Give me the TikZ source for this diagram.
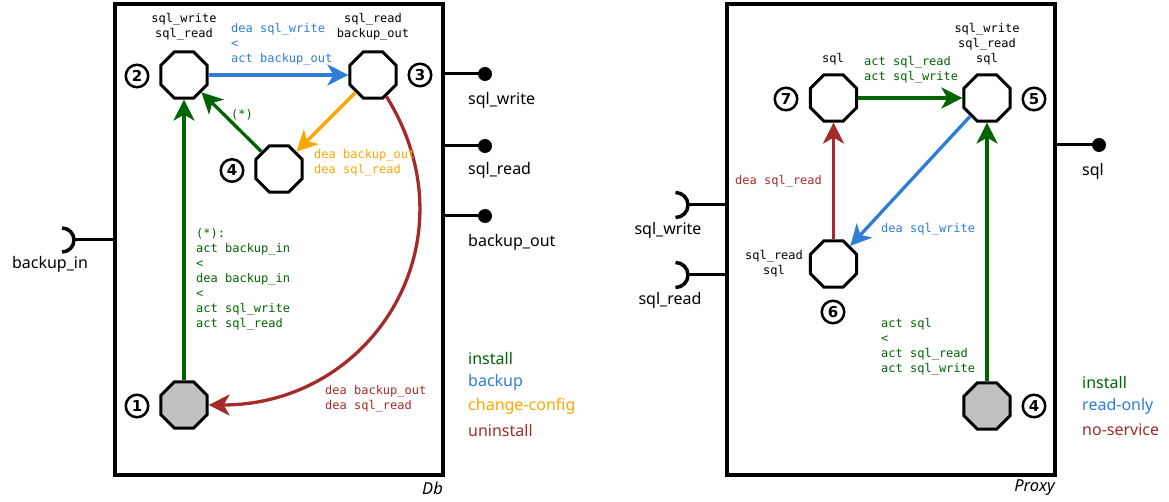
\documentclass[tikz,border=0pt]{standalone}
\usepackage{fontspec}
\setmainfont{Noto Sans}
\newfontfamily\monof{DejaVu Sans Mono}
\newfontfamily\numf{DejaVu Sans}
\usetikzlibrary{shapes.geometric,arrows.meta}
\definecolor{cgreen}{RGB}{0,100,0}
\definecolor{cblue}{RGB}{46,125,215}
\definecolor{corange}{RGB}{255,165,0}
\definecolor{cred}{RGB}{165,42,42}
\definecolor{cgray}{RGB}{192,192,192}
\begin{document}
\begin{tikzpicture}[x=1pt,y=-1pt,
  state/.style={regular polygon, regular polygon sides=8, minimum size=50pt, inner sep=0pt, draw, line width=3pt, fill=white},
  init/.style={state, fill=cgray},
  num/.style={circle, draw, line width=2.5pt, minimum size=22.5pt, inner sep=0pt, font=\fontsize{15}{15}\numf\bfseries},
  mono/.style={font=\fontsize{12}{15}\monof, inner sep=0pt, align=left},
  lbl/.style={font=\fontsize{16}{20}\selectfont, inner sep=0pt},
  trans/.style={line width=3.3pt, -{Stealth[length=21pt,width=21pt,inset=6pt]}},
  box/.style={draw, line width=4pt},
  port/.style={line width=3pt},
  dot/.style={circle, fill, minimum size=14pt, inner sep=0pt},
  sock/.style={line width=3.5pt},
  title/.style={font=\fontsize{16.5}{16.5}\selectfont\itshape, inner sep=0pt, anchor=east}]
\useasboundingbox (0,0) rectangle (1169,502);

% ---------- Db ----------
\draw[box] (115,4) rectangle (443,475);
\node[title] (dbt) at (443,488) {Db};

\node[state] (d2) at (184,75) {};
\node[state] (d3) at (373,75) {};
\node[state] (d4) at (279,169) {};
\node[init] (d1) at (184,405) {};

\node[num] (n2) at (137,76) {2};
\node[num] (n3) at (420,75) {3};
\node[num] (n4) at (232,170.5) {4};
\node[num] (n1) at (137,406) {1};

\node[mono, align=center] (l2) at (184,27) {sql\_write\\sql\_read};
\node[mono, align=center] (l3) at (373,27) {sql\_read\\backup\_out};

\draw[trans, cblue] (d2) -- (d3);
\draw[trans, corange] (d3) -- (d4);
\draw[trans, cgreen] (d4) -- (d2);
\draw[trans, cgreen] (d1) -- (d2);
\draw[trans, cred] (d3) .. controls (476,240) and (374,405) .. (d1);

\node[mono, text=cblue, anchor=west] (t23) at (231,44) {dea sql\_write\\<\\act backup\_out};
\node[mono, text=corange, anchor=west] (t34) at (314,162.5) {dea backup\_out\\dea sql\_read};
\node[mono, text=cgreen] (t42) at (242,115) {(*)};
\node[mono, text=cgreen, anchor=west] (t12) at (196,279.5) {(*):\\act backup\_in\\<\\dea backup\_in\\<\\act sql\_write\\act sql\_read};
\node[mono, text=cred, anchor=west] (t31) at (325,398.5) {dea backup\_out\\dea sql\_read};

\coordinate (pw) at (443,74);
\coordinate (pr) at (443,146);
\coordinate (pb) at (443,216);
\node[dot] (pwd) at (485,74) {};
\node[dot] (prd) at (485,146) {};
\node[dot] (pbd) at (485,216) {};
\draw[port] (pw) -- (pwd.center);
\draw[port] (pr) -- (prd.center);
\draw[port] (pb) -- (pbd.center);
\node[lbl, anchor=west] (pwl) at (468,100) {sql\_write};
\node[lbl, anchor=west] (prl) at (468,170) {sql\_read};
\node[lbl, anchor=west] (pbl) at (468,242) {backup\_out};

\coordinate (bi) at (115,240);
\coordinate (bis) at (74,240);
\draw[port] (bi) -- (bis);
\draw[sock] (62,228) arc[start angle=-90, end angle=90, radius=12];
\node[lbl] (bil) at (50,264) {backup\_in};

\node[lbl, anchor=west, text=cgreen] (lg1) at (468,358) {install};
\node[lbl, anchor=west, text=cblue] (lg2) at (468,382) {backup};
\node[lbl, anchor=west, text=corange] (lg3) at (468,406) {change-config};
\node[lbl, anchor=west, text=cred] (lg4) at (468,430) {uninstall};

% ---------- Proxy ----------
\draw[box] (727,4) rectangle (1055,475);
\node[title] (pxt) at (1055,488) {Proxy};

\node[state] (p7) at (833.5,98) {};
\node[state] (p5) at (987,98) {};
\node[state] (p6) at (833.5,264) {};
\node[init] (p4) at (987,406) {};

\node[num] (m7) at (786,99) {7};
\node[num] (m5) at (1034,99) {5};
\node[num] (m6) at (833,312) {6};
\node[num] (m4) at (1034,406) {4};

\node[mono, align=center] (q7) at (833,59) {sql};
\node[mono, align=center] (q5) at (987,44) {sql\_write\\sql\_read\\sql};
\node[mono, align=center] (q6) at (774,263.5) {sql\_read\\sql};

\draw[trans, cgreen] (p7) -- (p5);
\draw[trans, cred] (p6) -- (p7);
\draw[trans, cblue] (p5) -- (p6);
\draw[trans, cgreen] (p4) -- (p5);

\node[mono, text=cgreen, anchor=west] (s75) at (864,69.5) {act sql\_read\\act sql\_write};
\node[mono, text=cred, anchor=west] (s67) at (735,181) {dea sql\_read};
\node[mono, text=cblue, anchor=west] (s56) at (881,229) {dea sql\_write};
\node[mono, text=cgreen, anchor=west] (s45) at (881,346.5) {act sql\\<\\act sql\_read\\act sql\_write};

\coordinate (xw) at (727,205);
\coordinate (xws) at (688,205);
\coordinate (xr) at (727,275);
\coordinate (xrs) at (688,275);
\draw[port] (xw) -- (xws);
\draw[port] (xr) -- (xrs);
\draw[sock] (675.5,192.5) arc[start angle=-90, end angle=90, radius=12.5];
\draw[sock] (675.5,262.5) arc[start angle=-90, end angle=90, radius=12.5];
\node[lbl] (xwl) at (668,230) {sql\_write};
\node[lbl] (xrl) at (670,300) {sql\_read};

\coordinate (xs) at (1055,145);
\node[dot] (xsd) at (1099,145) {};
\draw[port] (xs) -- (xsd.center);
\node[lbl, anchor=west] (xsl) at (1082,171) {sql};

\node[lbl, anchor=west, text=cgreen] (lh1) at (1082,382) {install};
\node[lbl, anchor=west, text=cblue] (lh2) at (1082,406) {read-only};
\node[lbl, anchor=west, text=cred] (lh3) at (1082,430) {no-service};
\end{tikzpicture}
\end{document}
